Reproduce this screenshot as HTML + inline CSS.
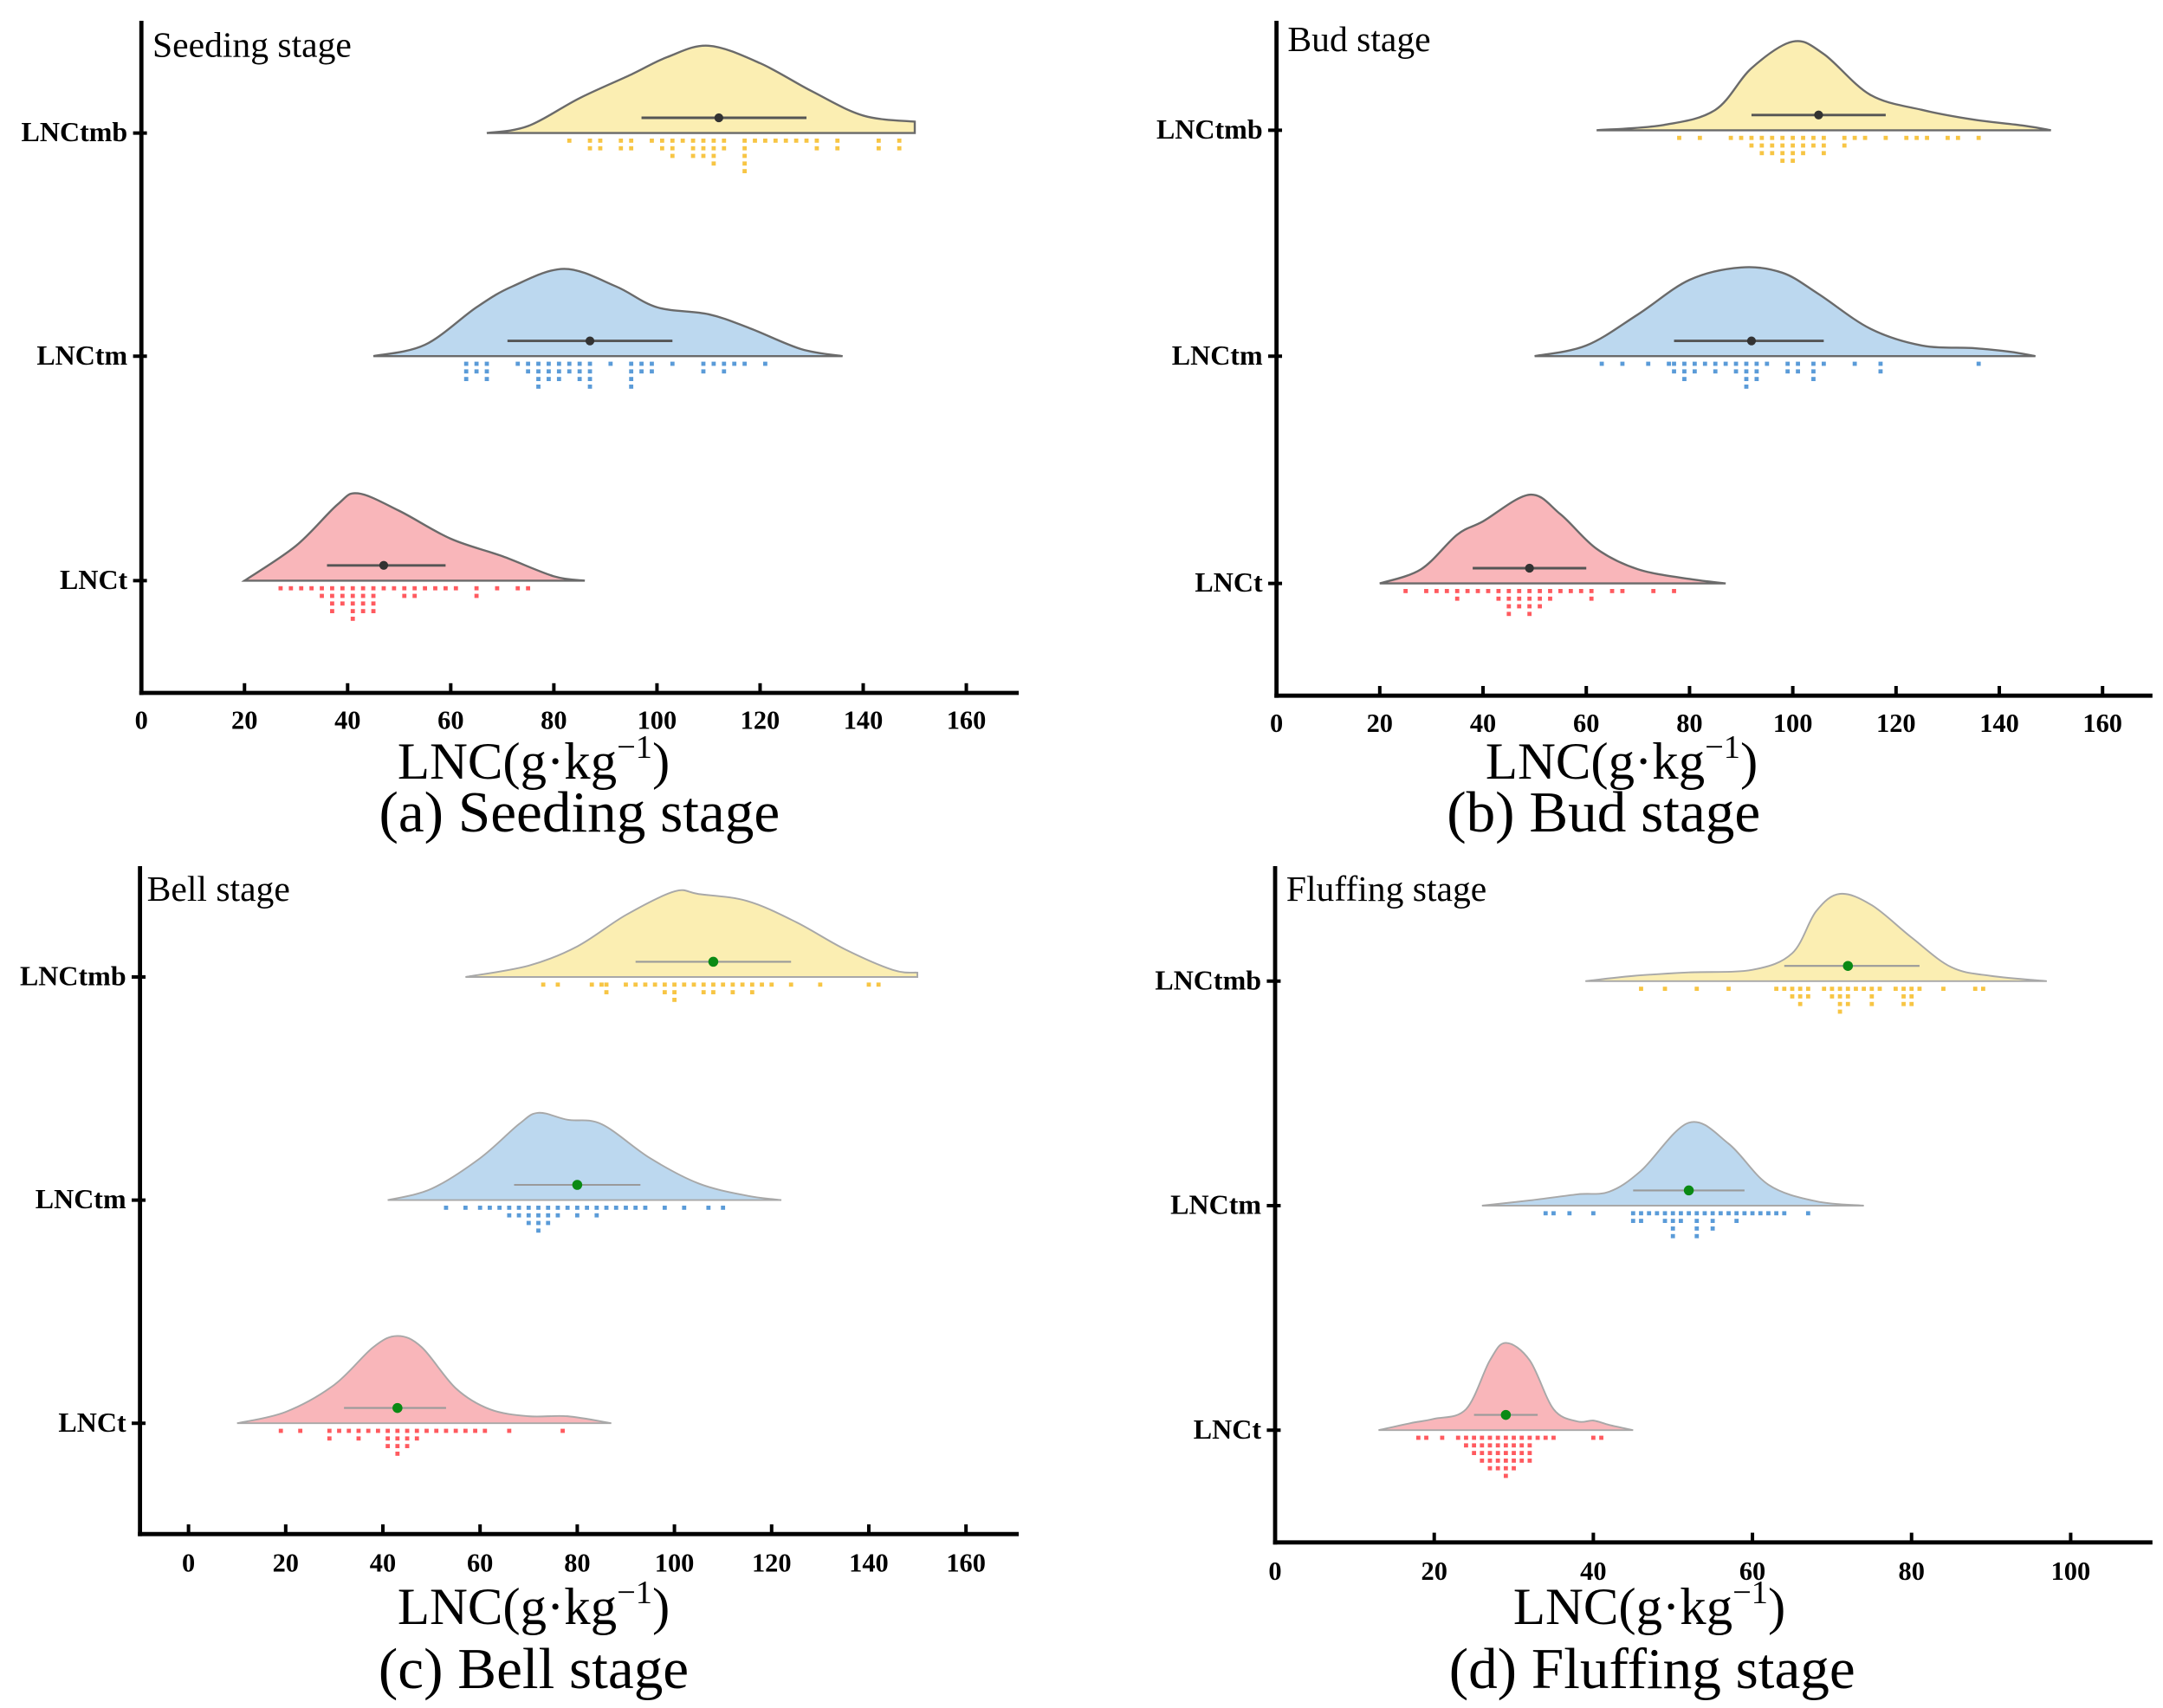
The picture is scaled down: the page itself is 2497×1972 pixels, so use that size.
<!DOCTYPE html>
<html><head><meta charset="utf-8"><style>
body{margin:0;background:#fff}
svg{display:block}
text{font-family:"Liberation Serif",serif}
</style></head><body>
<svg id="chart" width="2497" height="1972" viewBox="0 0 1560.6 1232.5" xmlns="http://www.w3.org/2000/svg"></svg>
<script>
const categories = ["LNCtmb","LNCtm","LNCt"];
const panelTitles = ["Seeding stage","Bud stage","Bell stage","Fluffing stage"];
const captions = ["(a) Seeding stage","(b) Bud stage","(c) Bell stage","(d) Fluffing stage"];
const ticksA = [0,20,40,60,80,100,120,140,160];
const ticksD = [0,20,40,60,80,100];
// density profiles: [value, relative height 0..1]
const densA = [
 [[67,0],[75,.08],[85,.4],[95,.67],[102,.87],[110,1],[120,.8],[130,.48],[140,.2],[150,.13]],
 [[45,0],[55,.13],[65,.56],[72,.8],[82,1],[92,.8],[100,.56],[110,.48],[118,.32],[128,.08],[136,0]],
 [[20,0],[30,.4],[38,.87],[42,1],[50,.8],[60,.48],[70,.28],[80,.05],[86,0]]];
const densB = [
 [[62,0],[75,.06],[85,.23],[92,.7],[100,1],[106,.86],[115,.4],[125,.23],[135,.12],[145,.05],[150,0]],
 [[50,0],[60,.12],[70,.47],[80,.86],[90,1],[98,.94],[105,.7],[115,.31],[125,.12],[135,.09],[142,.05],[147,0]],
 [[20,0],[28,.16],[35,.55],[40,.7],[49,1],[55,.78],[62,.39],[70,.16],[80,.05],[87,0]]];
const densC = [
 [[57,0],[70,.13],[80,.35],[90,.71],[100,.98],[105,.95],[115,.87],[125,.63],[135,.32],[145,.08],[150,.05]],
 [[41,0],[50,.13],[60,.48],[68,.87],[72,1],[78,.92],[85,.87],[95,.48],[105,.19],[115,.05],[122,0]],
 [[10,0],[20,.13],[30,.44],[38,.87],[43,1],[48,.87],[55,.4],[62,.16],[70,.08],[78,.08],[87,0]]];
const densD = [
 [[39,0],[45,.06],[52,.1],[60,.13],[65,.32],[68,.8],[71,1],[75,.87],[80,.5],[85,.16],[90,.06],[97,0]],
 [[26,0],[32,.06],[38,.13],[42,.16],[46,.4],[52,.95],[57,.71],[62,.24],[68,.05],[74,0]],
 [[13,0],[17,.08],[20,.13],[24,.24],[27,.8],[29,1],[32,.8],[35,.24],[38,.1],[40,.11],[42,.06],[45,0]]];
const meanA=[112,87,47], lowA=[97,71,36], highA=[129,103,59];
const meanB=[105,92,49], lowB=[92,77,38], highB=[118,106,60];
const meanC=[108,80,43], lowC=[92,67,32], highC=[124,93,53];
const meanD=[72,52,29], lowD=[64,45,25], highD=[81,59,33];
const dotsA=[
 [83,87,87,89,89,93,93,95,95,99,101,101,103,103,103,105,107,107,107,109,109,109,111,111,111,111,113,113,117,117,117,117,117,119,121,123,125,127,129,131,131,135,135,143,143,147,147],
 [63,63,63,65,65,67,67,67,73,75,75,77,77,77,77,79,79,79,81,81,81,83,83,85,85,85,87,87,87,87,91,95,95,95,95,97,97,99,99,103,109,109,111,113,113,115,117,121],
 [27,29,31,33,35,35,37,37,37,37,39,39,39,41,41,41,41,41,43,43,43,43,45,45,45,45,47,49,51,51,53,53,55,57,59,61,65,65,69,73,75]];
const dotsB=[
 [78,82,88,90,92,92,94,94,94,96,96,96,98,98,98,98,100,100,100,100,102,102,102,104,104,106,106,106,110,110,112,114,118,122,124,126,130,132,136],
 [63,67,72,76,77,77,79,79,79,81,81,83,85,85,87,89,89,91,91,91,91,93,93,93,95,99,99,101,101,104,104,104,106,112,117,117,136],
 [25,29,31,33,35,35,37,39,41,43,43,45,45,45,45,47,47,47,49,49,49,49,51,51,51,53,53,55,57,59,61,61,65,67,73,77]];
const dotsC=[
 [73,76,83,85,86,86,90,92,94,96,98,98,100,100,100,102,104,106,106,108,108,110,112,112,114,116,116,118,120,124,130,140,142],
 [53,57,60,62,64,66,66,68,68,70,70,70,72,72,72,72,74,74,74,76,76,78,80,80,82,84,84,86,88,90,92,94,98,102,107,110],
 [19,23,29,29,31,33,35,35,37,39,41,41,41,43,43,43,43,45,45,45,47,47,49,51,53,55,57,59,61,66,77]];
const dotsD=[
 [46,49,53,57,63,64,65,65,66,66,66,67,67,69,70,70,71,71,71,71,72,72,72,73,74,75,75,75,76,78,79,79,79,80,80,80,81,84,88,89],
 [34,35,37,40,45,45,46,46,47,48,49,49,50,50,50,50,51,51,52,53,53,53,53,54,55,55,55,56,57,58,58,59,60,61,62,63,64,67],
 [18,19,21,23,24,24,25,25,25,26,26,26,26,27,27,27,27,27,28,28,28,28,28,29,29,29,29,29,29,30,30,30,30,30,31,31,31,31,32,32,32,32,33,34,35,40,41]];

const panels=[
 {ax:102,ay:500,top:15,xend:735,x0:102,ppu:3.72,cy:[96,257,419],ticks:ticksA,tl:520,dens:densA,mean:meanA,low:lowA,high:highA,dots:dotsA,hpx:63,title:[110,41],at:[385,562],cap:[418,600],green:false},
 {ax:921,ay:502,top:15,xend:1553,x0:921,ppu:3.725,cy:[94,257,421],ticks:ticksA,tl:522,dens:densB,mean:meanB,low:lowB,high:highB,dots:dotsB,hpx:64,title:[929,37],at:[1170,562],cap:[1157,600],green:false},
 {ax:101,ay:1107,top:625,xend:735,x0:136,ppu:3.506,cy:[705,866,1027],ticks:ticksA,tl:1128,dens:densC,mean:meanC,low:lowC,high:highC,dots:dotsC,hpx:63,title:[106,650],at:[385,1172],cap:[385,1218],green:true},
 {ax:920,ay:1113,top:625,xend:1553,x0:920,ppu:5.74,cy:[708,870,1032],ticks:ticksD,tl:1134,dens:densD,mean:meanD,low:lowD,high:highD,dots:dotsD,hpx:63,title:[928,650],at:[1190,1172],cap:[1192,1218],green:true}];
const fills=["#fbeeb2","#bcd8ef","#f9b6ba"];
const dotCols=["#f7c544","#5a9bd8","#ff5a5f"];
const NS="http://www.w3.org/2000/svg";
const svg=document.getElementById('chart');
function mk(tag,attrs,parent){const e=document.createElementNS(NS,tag);for(const k in attrs)e.setAttribute(k,attrs[k]);(parent||svg).appendChild(e);return e;}
function smooth(pts){let d=`M${pts[0][0]},${pts[0][1]}`;for(let i=0;i<pts.length-1;i++){const p0=pts[Math.max(0,i-1)],p1=pts[i],p2=pts[i+1],p3=pts[Math.min(pts.length-1,i+2)];
 const c1=[p1[0]+(p2[0]-p0[0])/6,p1[1]+(p2[1]-p0[1])/6],c2=[p2[0]-(p3[0]-p1[0])/6,p2[1]-(p3[1]-p1[1])/6];
 d+=` C${c1[0]},${c1[1]} ${c2[0]},${c2[1]} ${p2[0]},${p2[1]}`;}return d;}
panels.forEach((P,pi)=>{
 const g=mk('g',{});
 
 
 const X=v=>P.x0+v*P.ppu;
 for(let c=0;c<3;c++){
  const cy=P.cy[c];
  const pts=P.dens[c].map(d=>[X(d[0]),cy-d[1]*P.hpx]);
  let d=smooth(pts)+` L${pts[pts.length-1][0]},${cy} L${pts[0][0]},${cy} Z`;
  const v=mk('path',{d:d,fill:fills[c],stroke:P.green?'#a8a8a8':'#6a6a6a','stroke-width':P.green?1.2:1.5},g);
  
  
  const counts={};
  P.dots[c].forEach(val=>{const k=counts[val]||0;counts[val]=k+1;
   const r=mk('rect',{x:X(val)-1.5,y:cy+4+k*5.5,width:3,height:3,fill:dotCols[c]},g);
   
   });
  const ey=cy-11;
  const l=mk('line',{x1:X(P.low[c]),x2:X(P.high[c]),y1:ey,y2:ey,stroke:P.green?'#9a9a9a':'#555','stroke-width':P.green?1.3:1.8},g);
  
  
  const m=mk('circle',{cx:X(P.mean[c]),cy:ey,r:P.green?3.6:3.2,fill:P.green?'#0a8a14':'#333'},g);
  
  
  mk('line',{x1:P.ax-6,x2:P.ax+4,y1:cy,y2:cy,stroke:'#000','stroke-width':2.5},g);
  const t=mk('text',{x:P.ax-10,y:cy+6,'text-anchor':'end','font-size':20,'font-weight':'bold'},g);t.textContent=categories[c];
  
  
 }
 const ya=mk('line',{x1:P.ax,x2:P.ax,y1:P.top,y2:P.ay+1.5,stroke:'#000','stroke-width':3},g);
 
 
 const xa=mk('line',{x1:P.ax-1.5,x2:P.xend,y1:P.ay,y2:P.ay,stroke:'#000','stroke-width':3},g);
 
 
 P.ticks.forEach(tv=>{mk('line',{x1:X(tv),x2:X(tv),y1:P.ay-7,y2:P.ay,stroke:'#000','stroke-width':2.5},g);
  const t=mk('text',{x:X(tv),y:P.tl+6,'text-anchor':'middle','font-size':19,'font-weight':'bold'},g);t.textContent=tv;
  
  });
 const pt=mk('text',{x:P.title[0],y:P.title[1],'font-size':26},g);pt.textContent=panelTitles[pi];
 
 
 const at=mk('text',{x:P.at[0],y:P.at[1],'text-anchor':'middle','font-size':38},g);
 at.innerHTML='LNC(g·kg<tspan font-size="24" dy="-15">−1</tspan><tspan dy="15">)</tspan>';
 
 
 const cp=mk('text',{x:P.cap[0],y:P.cap[1],'text-anchor':'middle','font-size':42},g);cp.textContent=captions[pi];
 
 
});
</script>
</body></html>
